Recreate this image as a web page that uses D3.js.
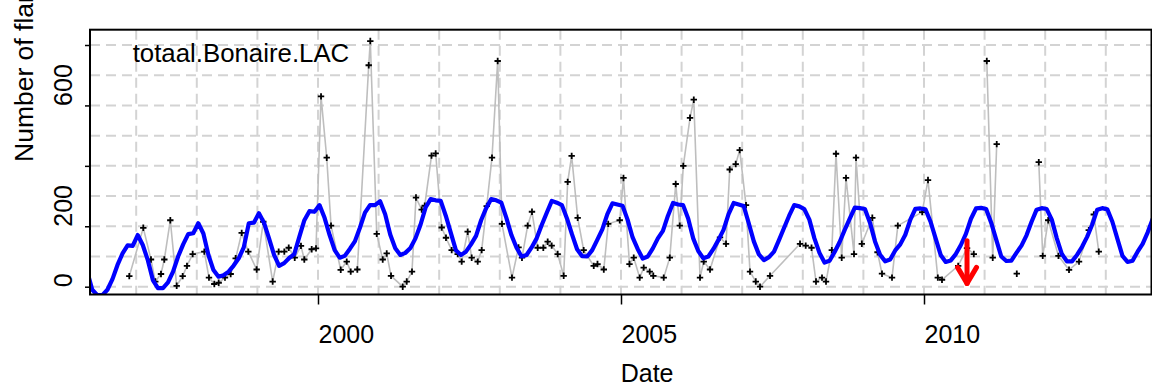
<!DOCTYPE html>
<html><head><meta charset="utf-8">
<script src="https://cdn.jsdelivr.net/npm/d3@7"></script>
<style>
body{margin:0;background:#fff}
svg{display:block;background:#fff}
text{font-family:"Liberation Sans",Arial,Helvetica,sans-serif;fill:#000}
</style>
</head><body>
<svg id="chart" width="1152" height="385"></svg>
<script>
// ---------- data ----------
const seriesTitle = "totaal.Bonaire.LAC";
const xLabel = "Date";
const yLabel = "Number of flamingos";
const xTickYears = [2000, 2005, 2010];
const xGridYears = [1997,1998,1999,2000,2001,2002,2003,2004,2005,2006,2007,2008,2009,2010,2011,2012,2013];
const yTicks = [0, 200, 400, 600, 800];
const yTickLabels = ["0", "200", "", "600", ""];
const yGridValues = [0,100,200,300,400,500,600,700,800];

// observed counts (decimal year, count)
const obsDates = [1996.886,1997.117,1997.244,1997.315,1997.409,1997.464,1997.563,1997.668,1997.767,1997.838,
1997.932,1998.124,1998.201,1998.289,1998.361,1998.465,1998.559,1998.642,1998.741,1998.85,
1998.988,1999.097,1999.252,1999.351,1999.444,1999.517,1999.616,1999.719,1999.774,1999.896,
1999.967,2000.05,2000.144,2000.215,2000.375,2000.474,2000.54,2000.649,2000.837,2000.863,
2000.969,2001.068,2001.134,2001.205,2001.398,2001.464,2001.551,2001.617,2001.711,2001.761,
2001.873,2001.942,2002.041,2002.112,2002.206,2002.305,2002.371,2002.47,2002.536,2002.635,
2002.701,2002.784,2002.871,2002.965,2003.036,2003.201,2003.309,2003.366,2003.46,2003.531,
2003.625,2003.718,2003.79,2003.856,2003.955,2004.054,2004.12,2004.186,2004.285,2004.384,
2004.55,2004.612,2004.716,2004.789,2004.979,2005.041,2005.14,2005.21,2005.309,2005.375,
2005.474,2005.533,2005.705,2005.805,2005.903,2005.969,2006.028,2006.139,2006.201,2006.304,
2006.365,2006.469,2006.634,2006.733,2006.794,2006.893,2006.959,2007.063,2007.129,2007.224,
2007.294,2007.459,2007.954,2008.048,2008.144,2008.218,2008.317,2008.383,2008.479,2008.548,
2008.642,2008.713,2008.845,2008.878,2008.974,2009.147,2009.233,2009.307,2009.472,2009.568,
2009.97,2010.066,2010.228,2010.297,2010.564,2010.71,2010.822,2011.036,2011.134,2011.2,
2011.531,2011.894,2011.959,2012.05,2012.219,2012.393,2012.558,2012.719,2012.802,2012.884];
const obsValues = [35,195,90,17,42,90,220,3,35,69,
108,116,30,9,13,30,42,94,178,116,
57,215,17,116,116,129,96,135,90,124,
127,630,427,202,56,83,50,57,733,813,
175,90,110,36,0,17,50,295,255,268,
434,441,196,162,121,108,83,182,96,83,
121,267,427,747,208,30,130,96,202,248,
129,129,149,136,108,36,347,433,228,121,
69,75,57,208,220,360,75,96,30,63,
50,36,30,96,340,202,400,559,619,30,
83,57,163,142,388,406,452,270,50,17,
0,36,142,136,129,17,30,17,121,440,
96,360,108,427,142,228,114,43,30,202,
247,353,30,23,69,128,108,747,96,472,
43,412,102,220,102,56,83,187,239,116];
// the grey line is interrupted after these dates
const obsBreaksAfter = [2010.822, 2011.2, 2011.531];

// monthly fitted model (blue), first value = March 1996
const modelStart = 1996.1917;
const modelValues = [
50,-10,-28,-28,-10,25,72,110,137,135,
171,138,88,22,-5,-5,14,50,100,140,174,177,
210,176,105,55,33,38,50,70,94,130,210,212,
243,212,160,105,69,78,95,108,165,220,250,248,
270,228,171,121,96,102,125,150,195,245,270,270,
283,240,173,127,105,112,128,160,205,262,290,286,
284,235,178,121,105,116,140,168,220,260,290,286,
278,228,171,130,100,105,130,160,204,245,284,278,
270,226,173,124,101,100,121,155,190,240,276,272,
268,222,163,125,93,100,127,160,185,235,277,272,
270,226,160,118,94,100,125,155,188,240,277,272,
267,210,150,107,88,98,116,155,195,235,270,266,
257,222,160,112,80,86,115,148,188,225,262,260,
257,212,150,106,84,90,120,140,172,222,258,259,
256,215,160,105,82,87,108,138,175,225,259,261,
257,212,156,100,85,86,112,136,170,215,255,260,
257,222,160,108,84,84,105,132,165,205,255,260,
256,215,158,102,82,86,116,142,180,225];

// red arrow marker
const arrowDate = 2010.71;
const arrowFrom = 152;
const arrowTo = 11;

// ---------- layout ----------
const svg = d3.select("#chart");
const W = 1152, H = 385;
const plot = {left: 90, right: 1151.5, top: 29.7, bottom: 294.5};

const x = d3.scaleLinear().domain([2000, 2010]).range([318, 924]);
const y = d3.scaleLinear().domain([0, 800]).range([286.7, 45]);

svg.append("rect").attr("width", W).attr("height", H).attr("fill", "#fff");

svg.append("defs").append("clipPath").attr("id", "clip")
  .append("rect").attr("x", plot.left).attr("y", plot.top)
  .attr("width", plot.right - plot.left).attr("height", plot.bottom - plot.top);

const g = svg.append("g").attr("clip-path", "url(#clip)");

// grid
g.append("g").selectAll("line").data(yGridValues).join("line")
  .attr("x1", plot.left).attr("x2", plot.right)
  .attr("y1", d => y(d)).attr("y2", d => y(d))
  .attr("stroke", "#d3d3d3").attr("stroke-width", 2).attr("stroke-dasharray", "10,6");
g.append("g").selectAll("line").data(xGridYears).join("line")
  .attr("x1", d => x(d)).attr("x2", d => x(d))
  .attr("y1", plot.top).attr("y2", plot.bottom)
  .attr("stroke", "#d3d3d3").attr("stroke-width", 2).attr("stroke-dasharray", "10,6");

// observed series, split into segments
const obs = obsDates.map((t, i) => ({t, v: obsValues[i]}));
const segments = [];
let cur = [];
obs.forEach(d => {
  cur.push(d);
  if (obsBreaksAfter.some(b => Math.abs(b - d.t) < 1e-6)) { segments.push(cur); cur = []; }
});
if (cur.length) segments.push(cur);

const line = d3.line().x(d => x(d.t)).y(d => y(d.v));
g.append("g").selectAll("path").data(segments).join("path")
  .attr("d", line).attr("fill", "none")
  .attr("stroke", "#bebebe").attr("stroke-width", 1.6);

g.append("g").selectAll("path").data(obs).join("path")
  .attr("transform", d => `translate(${x(d.t)},${y(d.v)})`)
  .attr("d", "M-3.2,0H3.2M0,-3.2V3.2")
  .attr("stroke", "#000").attr("stroke-width", 1.8).attr("fill", "none");

// model line
const model = modelValues.map((v, i) => ({t: modelStart + i / 12, v}));
g.append("path").datum(model).attr("d", line)
  .attr("fill", "none").attr("stroke", "#0000ff").attr("stroke-width", 4.2)
  .attr("stroke-linejoin", "round");

// red arrow
const ax = x(arrowDate), ay0 = y(arrowFrom), ay1 = y(arrowTo);
svg.append("line").attr("x1", ax).attr("x2", ax).attr("y1", ay0).attr("y2", ay1)
  .attr("stroke", "#ff0000").attr("stroke-width", 5).attr("stroke-linecap", "round");
svg.append("path")
  .attr("d", `M${ax - 9.5},${ay1 - 16}L${ax},${ay1}L${ax + 9.5},${ay1 - 16}`)
  .attr("fill", "none").attr("stroke", "#ff0000").attr("stroke-width", 5)
  .attr("stroke-linecap", "round").attr("stroke-linejoin", "round");

// frame
svg.append("rect").attr("x", plot.left).attr("y", plot.top)
  .attr("width", plot.right - plot.left).attr("height", plot.bottom - plot.top)
  .attr("fill", "none").attr("stroke", "#000").attr("stroke-width", 2);

// y axis
const yAxis = svg.append("g").attr("transform", `translate(${plot.left},0)`)
  .call(d3.axisLeft(y).tickValues(yTicks).tickSize(5).tickFormat((d, i) => yTickLabels[i]));
yAxis.select(".domain").remove();
yAxis.selectAll(".tick line").attr("stroke", "#000").attr("stroke-width", 1.5);
yAxis.selectAll(".tick text")
  .attr("x", null).attr("dy", null)
  .attr("transform", "translate(-18,0) rotate(-90)")
  .attr("text-anchor", "start")
  .style("font-size", "25px").style("font-family", "'Liberation Sans', Arial, sans-serif");

// x axis
const xAxis = svg.append("g").attr("transform", `translate(0,${plot.bottom})`)
  .call(d3.axisBottom(x).tickValues(xTickYears).tickSize(10).tickFormat(d3.format("d")));
xAxis.select(".domain").remove();
xAxis.selectAll(".tick line").attr("stroke", "#000").attr("stroke-width", 1.5);
xAxis.selectAll(".tick text")
  .attr("y", 48.5).attr("dy", null).attr("x", 0)
  .attr("text-anchor", "start")
  .style("font-size", "25px").style("font-family", "'Liberation Sans', Arial, sans-serif");

// labels
svg.append("text").attr("x", 620.7).attr("y", 382).attr("text-anchor", "start")
  .style("font-size", "25px").text(xLabel);
svg.append("text").attr("transform", "translate(33,162) rotate(-90)")
  .attr("text-anchor", "start").style("font-size", "26.5px").text(yLabel);
svg.append("text").attr("x", 132.7).attr("y", 62.3)
  .style("font-size", "25.8px").text(seriesTitle);
</script>
</body></html>
